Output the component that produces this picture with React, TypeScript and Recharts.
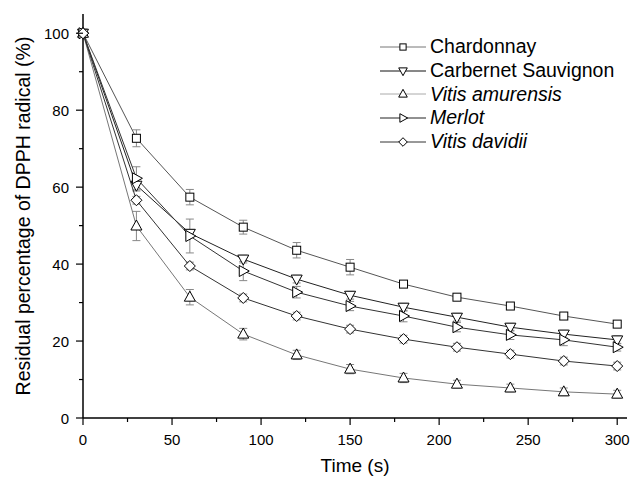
import React from 'react';
import { LineChart, Line, XAxis, YAxis, ErrorBar } from 'recharts';

const TIMES = [0, 30, 60, 90, 120, 150, 180, 210, 240, 270, 300];

const CHARDONNAY = [100, 72.7, 57.4, 49.6, 43.6, 39.2, 34.8, 31.4, 29.1, 26.5, 24.4];
const CHARDONNAY_ERR = [0, 2.2, 2, 1.8, 2, 2, 0.8, 0.7, 0.7, 0.8, 0.8];
const CABERNET = [100, 60.5, 48, 41.3, 36.1, 31.9, 28.8, 26.2, 23.6, 21.8, 20.3];
const CABERNET_ERR = [0, 1.5, 1, 1, 1, 1, 1, 1, 1, 1, 1];
const AMURENSIS = [100, 49.9, 31.4, 21.8, 16.4, 12.7, 10.4, 8.8, 7.8, 6.8, 6.2];
const AMURENSIS_ERR = [0, 3.8, 2, 1.5, 1.2, 1.2, 1.2, 1, 1, 1, 1];
const MERLOT = [100, 62.3, 47.3, 38.2, 32.7, 29.1, 26.5, 23.6, 21.6, 20.3, 18.4];
const MERLOT_ERR = [0, 3, 4.4, 2.5, 1.5, 1.2, 1.5, 1.2, 1.2, 1.5, 1];
const DAVIDII = [100, 56.6, 39.5, 31.2, 26.5, 23.1, 20.5, 18.4, 16.6, 14.8, 13.5];
const DAVIDII_ERR = [0, 1, 1, 1, 1, 1, 1, 1, 1, 1, 1];

const X_TICKS = [0, 25, 50, 75, 100, 125, 150, 175, 200, 225, 250, 275, 300];
const Y_TICKS = [0, 10, 20, 30, 40, 50, 60, 70, 80, 90, 100];

const FONT = '"Liberation Sans", Arial, sans-serif';

type Shape = 'square' | 'down' | 'up' | 'right' | 'diamond';

const SERIES: { key: string; name: string; italic: boolean; shape: Shape; values: number[]; err: number[]; line: string; legendLine: string }[] = [
  { key: 'chardonnay', name: 'Chardonnay', italic: false, shape: 'square', values: CHARDONNAY, err: CHARDONNAY_ERR, line: '#555', legendLine: '#777' },
  { key: 'cabernet', name: 'Carbernet Sauvignon', italic: false, shape: 'down', values: CABERNET, err: CABERNET_ERR, line: '#222', legendLine: '#111' },
  { key: 'amurensis', name: 'Vitis amurensis', italic: true, shape: 'up', values: AMURENSIS, err: AMURENSIS_ERR, line: '#777', legendLine: '#aaa' },
  { key: 'merlot', name: 'Merlot', italic: true, shape: 'right', values: MERLOT, err: MERLOT_ERR, line: '#333', legendLine: '#222' },
  { key: 'davidii', name: 'Vitis davidii', italic: true, shape: 'diamond', values: DAVIDII, err: DAVIDII_ERR, line: '#333', legendLine: '#333' },
];

const data = TIMES.map((t, i) => {
  const row: Record<string, number> = { time: t };
  SERIES.forEach((s) => {
    row[s.key] = s.values[i];
    row[s.key + 'Err'] = s.err[i];
  });
  return row;
});

function Marker({ shape, cx, cy, r = 1 }: { shape: Shape; cx: number; cy: number; r?: number }) {
  const common = { fill: '#fff', stroke: '#000', strokeWidth: 1 };
  const a = 4 * r;
  const b = 5.5 * r;
  const c = 6 * r;
  switch (shape) {
    case 'square':
      return <rect x={cx - a} y={cy - a} width={2 * a} height={2 * a} {...common} />;
    case 'down':
      return <polygon points={`${cx - b},${cy - a} ${cx + b},${cy - a} ${cx},${cy + c}`} {...common} />;
    case 'up':
      return <polygon points={`${cx - b},${cy + a} ${cx + b},${cy + a} ${cx},${cy - c}`} {...common} />;
    case 'right':
      return <polygon points={`${cx - a},${cy - b} ${cx - a},${cy + b} ${cx + c},${cy}`} {...common} />;
    default:
      return <polygon points={`${cx},${cy - b} ${cx + b},${cy} ${cx},${cy + b} ${cx - b},${cy}`} {...common} />;
  }
}

// major ticks get a label, minor ones only a short mark
function XTick({ x, y, payload }: any) {
  const major = payload.value % 50 === 0;
  return (
    <g>
      <line x1={x} x2={x} y1={y} y2={y + (major ? 7 : 4)} stroke="#000" strokeWidth={1.2} />
      {major && (
        <text x={x} y={y + 27} textAnchor="middle" fontSize={15} fontFamily={FONT} fill="#000">
          {payload.value}
        </text>
      )}
    </g>
  );
}

function YTick({ x, y, payload }: any) {
  const major = payload.value % 20 === 0;
  return (
    <g>
      <line x1={x} x2={x - (major ? 7 : 4)} y1={y} y2={y} stroke="#000" strokeWidth={1.2} />
      {major && (
        <text x={x - 14} y={y + 5.5} textAnchor="end" fontSize={15} fontFamily={FONT} fill="#000">
          {payload.value}
        </text>
      )}
    </g>
  );
}

function LegendBox() {
  return (
    <div style={{ position: 'absolute', left: 378, top: 35, fontFamily: FONT, fontSize: 19.5, color: '#000' }}>
      {SERIES.map((s) => (
        <div key={s.key} style={{ display: 'flex', alignItems: 'center', height: 23.7 }}>
          <svg width={50} height={20} style={{ marginRight: 2 }}>
            <line x1={2} x2={48} y1={10} y2={10} stroke={s.legendLine} strokeWidth={1} />
            <Marker shape={s.shape} cx={25} cy={10} r={0.78} />
          </svg>
          <span style={{ fontStyle: s.italic ? 'italic' : 'normal', whiteSpace: 'nowrap' }}>{s.name}</span>
        </div>
      ))}
    </div>
  );
}

export default function App() {
  return (
    <div style={{ position: 'absolute', left: 0, top: 0, width: 632, height: 478, background: '#fff' }}>
      <LineChart width={632} height={478} data={data} margin={{ top: 14, right: 5, bottom: 0, left: 0 }}>
        <XAxis
          dataKey="time"
          type="number"
          domain={[0, 305.5]}
          ticks={X_TICKS}
          interval={0}
          tickLine={false}
          tickSize={0}
          tickMargin={0}
          tick={<XTick />}
          height={60}
          axisLine={{ stroke: '#000', strokeWidth: 1.5 }}
          label={{ value: 'Time (s)', position: 'insideBottom', offset: 6, fontSize: 19, fontFamily: FONT, fill: '#000' }}
        />
        <YAxis
          type="number"
          domain={[0, 105]}
          ticks={Y_TICKS}
          interval={0}
          tickLine={false}
          tickSize={0}
          tickMargin={0}
          tick={<YTick />}
          width={83}
          axisLine={{ stroke: '#000', strokeWidth: 1.5 }}
          label={{
            value: 'Residual percentage of DPPH radical (%)',
            angle: -90,
            position: 'insideLeft',
            offset: 23,
            style: { textAnchor: 'middle' },
            fontSize: 19.5,
            fontFamily: FONT,
            fill: '#000',
          }}
        />
        {SERIES.map((s) => (
          <Line
            key={s.key}
            dataKey={s.key}
            name={s.name}
            stroke={s.line}
            strokeWidth={1}
            isAnimationActive={false}
            dot={(p: any) => <Marker key={`${s.key}-${p.index}`} shape={s.shape} cx={p.cx} cy={p.cy} />}
            activeDot={false}
          >
            <ErrorBar dataKey={s.key + 'Err'} direction="y" width={4} stroke="#888" strokeWidth={1} />
          </Line>
        ))}
      </LineChart>
      <LegendBox />
    </div>
  );
}
